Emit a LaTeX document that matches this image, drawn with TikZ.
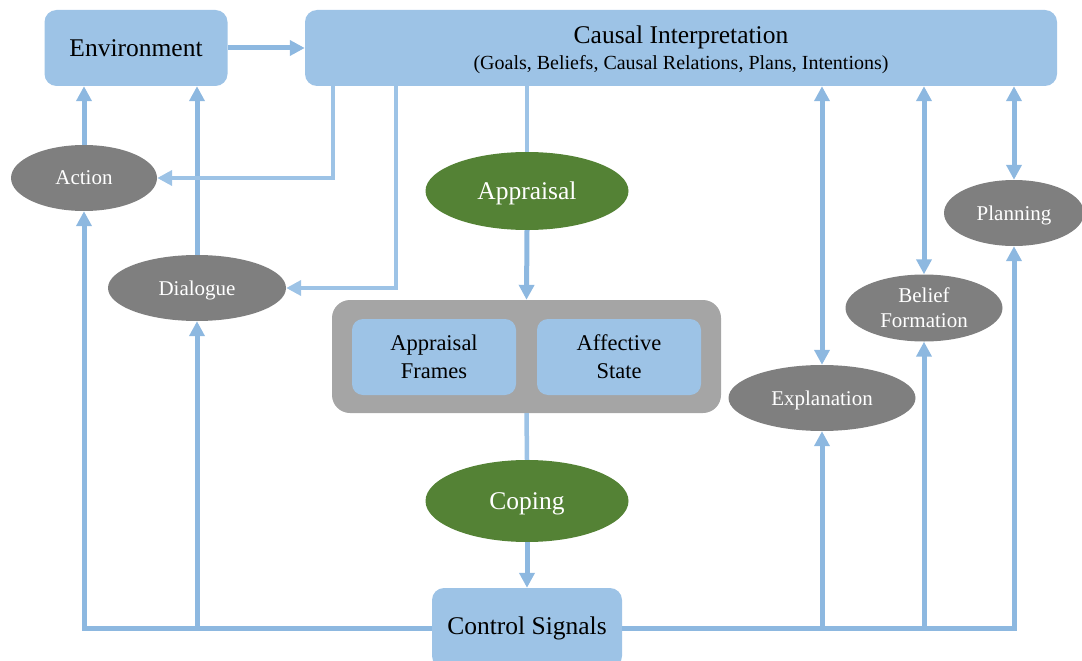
\documentclass[tikz,border=0pt]{standalone}
\usepackage{fontspec}
\setmainfont{Liberation Serif}
\usetikzlibrary{shapes.geometric, arrows.meta}

\definecolor{boxblue}{HTML}{9DC3E6}
\definecolor{lineblue}{HTML}{8DB8E0}
\definecolor{procgray}{HTML}{7F7F7F}
\definecolor{framegray}{HTML}{A5A5A5}
\definecolor{appgreen}{HTML}{548235}

\begin{document}
\begin{tikzpicture}[x=1pt, y=-1pt,
  module/.style = {rectangle, rounded corners=12pt, fill=boxblue, inner sep=0pt, align=center, font=\fontsize{25.5pt}{30pt}\selectfont},
  store/.style = {rectangle, rounded corners=11pt, fill=boxblue, inner sep=0pt, align=center, minimum width=164pt, minimum height=76pt, font=\fontsize{22.5pt}{28pt}\selectfont},
  process/.style = {ellipse, fill=procgray, text=white, inner sep=0pt, text depth=0pt, minimum height=66pt, align=center, font=\fontsize{21pt}{25pt}\selectfont},
  core/.style = {ellipse, fill=appgreen, text=white, inner sep=0pt, text depth=0pt, minimum width=203pt, font=\fontsize{25.5pt}{30pt}\selectfont},
  flow/.style = {draw=lineblue, line width=5pt},
  feed/.style = {draw=boxblue, line width=4.5pt},
  >={Triangle[length=15pt, width=15pt]}]
  \useasboundingbox (0, 0) rectangle (1082, 661);

  % Modules.
  \node at (136, 48) [module, minimum width=183pt, minimum height=76pt, name=Environment] {Environment};
  \node at (681, 48) [module, text depth=0pt, minimum width=752pt, minimum height=76pt, name=Causal]
        {Causal Interpretation\\[-4pt]{\fontsize{20pt}{24pt}\selectfont (Goals, Beliefs, Causal Relations, Plans, Intentions)}};
  \node at (527, 628) [module, minimum width=190pt, minimum height=80pt, name=Control] {Control Signals};

  % Affect.
  \node at (526.5, 356.5) [rectangle, rounded corners=18pt, fill=framegray, minimum width=389pt, minimum height=113pt, name=Affect] {};
  \node at (434, 357) [store, name=Frames] {Appraisal\\Frames};
  \node at (619, 357) [store, name=State] {Affective\\State};
  \node at (527, 191) [core, minimum height=78pt, name=Appraisal] {Appraisal};
  \node at (527, 501) [core, minimum height=82pt, name=Coping] {Coping};

  % Processes.
  \node at (84, 178) [process, minimum width=146pt, name=Action] {Action};
  \node at (197, 288) [process, minimum width=178pt, name=Dialogue] {Dialogue};
  \node at (822, 398) [process, minimum width=187pt, name=Explanation] {Explanation};
  \node at (924, 308) [process, minimum width=157pt, minimum height=67pt, name=Belief] {Belief\\Formation};
  \node at (1014, 213) [process, minimum width=140pt, name=Planning] {Planning};

  % Perception.
  \draw [flow, ->] (Environment)
             to (Causal);

  % Acting on the environment.
  \draw [flow, ->] (Action.north)
             to (Action.north |- Environment.south);
  \draw [flow, ->] (Dialogue.north)
             to (Dialogue.north |- Environment.south);

  % Interpretation feeds.
  \draw [feed, ->] ([xshift=28pt]Causal.south west)
             |- (Action.east);
  \draw [feed, ->] ([xshift=91pt]Causal.south west)
             |- (Dialogue.east);
  \draw [feed] (Appraisal.north |- Causal.south)
             to (Appraisal.north);

  % Appraisal and coping.
  \draw [flow, ->] (Appraisal.south)
             to (Affect.north);
  \draw [feed] (Affect.south)
             to (Coping.north);
  \draw [flow, ->] (Coping.south)
             to (Control.north);

  % Control signals.
  \draw [flow, ->] (Control.west)
             -| (Action.south);
  \draw [flow, ->] (Control.west)
             -| (Dialogue.south);
  \draw [flow, ->] (Control.east)
             -| (Explanation.south);
  \draw [flow, ->] (Control.east)
             -| (Belief.south);
  \draw [flow, ->] (Control.east)
             -| (Planning.south);

  % Updates of the interpretation.
  \draw [flow, <->] (Explanation.north |- Causal.south)
             to (Explanation.north);
  \draw [flow, <->] (Belief.north |- Causal.south)
             to (Belief.north);
  \draw [flow, <->] (Planning.north |- Causal.south)
             to (Planning.north);
\end{tikzpicture}
\end{document}
